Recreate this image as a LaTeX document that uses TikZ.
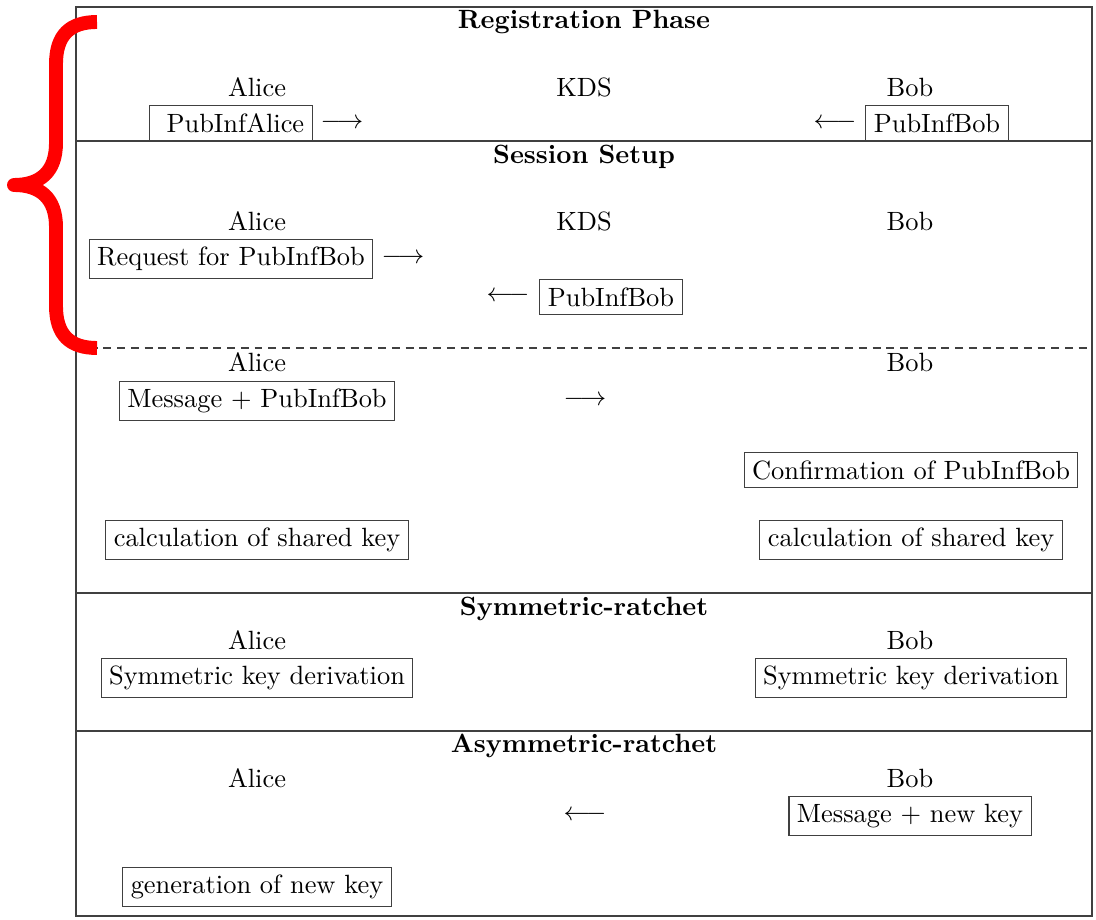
\documentclass[tikz,border=0pt]{standalone}
\usetikzlibrary{positioning}
\tikzset{
  kdbox/.style={draw=black!75, inner sep=3pt},
  kdtitle/.style={font=\bfseries},
  kdactor/.style={inner sep=1pt},
  kdarrow/.style={inner sep=0pt},
  kdrule/.style={draw=black!75, line width=0.4pt},
  kdbrace/.style={draw=red, line width=0.185cm, line join=round},
}

\begin{document}
\begin{tikzpicture}[x=0.0133cm, y=-0.0133cm]
  \useasboundingbox (0,0) rectangle (1096,920);

  \draw[kdrule] (76,7) rectangle (1092,916);
  \draw[kdrule] (76,141) -- (1092,141);
  \draw[kdrule, dash pattern=on 3pt off 2.2pt] (76,348) -- (1092,348);
  \draw[kdrule] (76,593) -- (1092,593);
  \draw[kdrule] (76,731) -- (1092,731);

  \node[kdtitle] (tReg) at (584,22) {Registration Phase};
  \node[kdtitle] (tSes) at (584,157) {Session Setup};
  \node[kdtitle] (tSym) at (584,609) {Symmetric-ratchet};
  \node[kdtitle] (tAsym) at (584,746) {Asymmetric-ratchet};

  \foreach \y/\n in {87/1, 221/2, 362/3, 640/4, 778/5} {
    \node[kdactor] (alice\n) at (257,\y) {Alice};
    \node[kdactor] (bob\n) at (910,\y) {Bob};
  }
  \node[kdactor] (kds1) at (584,87) {KDS};
  \node[kdactor] (kds2) at (584,221) {KDS};

  \node[kdbox] (pubA) at (231,123) {\ PubInfAlice};
  \node[kdarrow] (arrA) at (342,124) {$\longrightarrow$};
  \node[kdbox] (pubB) at (937,123) {PubInfBob};
  \node[kdarrow] (arrB) at (835,124) {$\longleftarrow$};

  \node[kdbox] (req) at (231,259) {Request for PubInfBob};
  \node[kdarrow] (arrReq) at (403,259) {$\longrightarrow$};
  \node[kdbox] (pubK) at (611,297) {PubInfBob};
  \node[kdarrow] (arrK) at (508,297) {$\longleftarrow$};

  \node[kdbox] (msg) at (257,401) {Message + PubInfBob};
  \node[kdarrow] (arrMsg) at (585,401) {$\longrightarrow$};
  \node[kdbox] (conf) at (911,470) {Confirmation of PubInfBob};
  \node[kdbox] (calcA) at (257,540) {calculation of shared key};
  \node[kdbox] (calcB) at (911,540) {calculation of shared key};

  \node[kdbox] (symA) at (257,678) {Symmetric key derivation};
  \node[kdbox] (symB) at (911,678) {Symmetric key derivation};

  \node[kdbox] (newB) at (910,816) {Message + new key};
  \node[kdarrow] (arrNew) at (585,816) {$\longleftarrow$};
  \node[kdbox] (gen) at (257,887) {generation of new key};

  \draw[kdbrace] (97,22) .. controls (70,22) and (56,35) .. (56,64) -- (56,143)
    .. controls (56,172) and (40,185) .. (14,185)
    .. controls (40,185) and (56,198) .. (56,227) -- (56,306)
    .. controls (56,335) and (70,348) .. (97,348);
\end{tikzpicture}
\end{document}
